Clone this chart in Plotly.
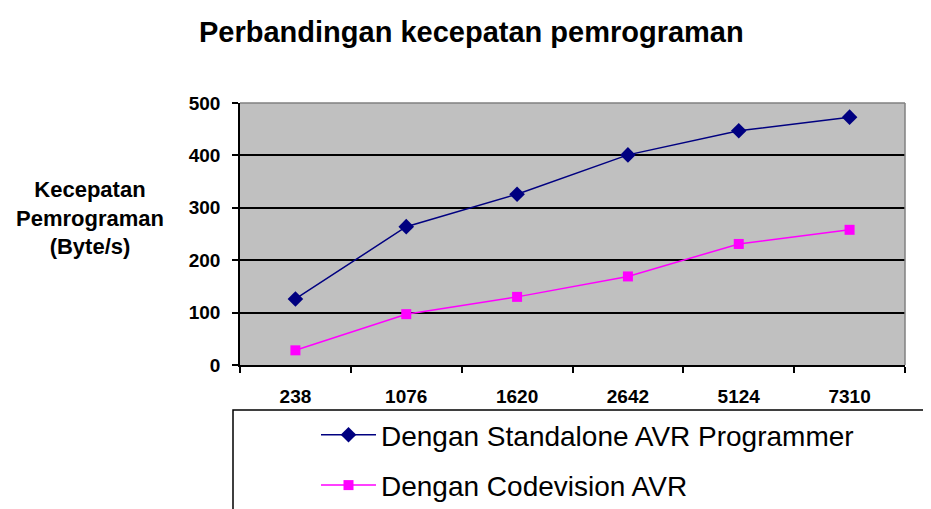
import plotly.graph_objects as go

categories = ["238", "1076", "1620", "2642", "5124", "7310"]
standalone = [126, 264, 326, 401, 447, 473]
codevision = [28, 97, 130, 169, 231, 258]
y_ticks = [0, 100, 200, 300, 400, 500]

# page places the figure at an 8px body margin; compensate so the
# window shows the same layout as the reference
OFF = 8
W, H = 931 - OFF, 509 - OFF
L, R, T, B = 240 - OFF, 26, 103 - OFF, 509 - 365
pw = W - L - R
ph = H - T - B

def px_x(x):
    return (x - OFF - L) / pw

def px_y(y):
    return (H - B - (y - OFF)) / ph

FONT = "Arial, Liberation Sans, sans-serif"

fig = go.Figure()
fig.add_trace(go.Scatter(
    x=categories, y=standalone, mode="lines+markers",
    name="Dengan Standalone AVR Programmer",
    line=dict(color="#000080", width=1.5),
    marker=dict(symbol="diamond", size=12, color="#000080"),
    legendgroup="a",
))
fig.add_trace(go.Scatter(
    x=categories, y=codevision, mode="lines+markers",
    name="Dengan Codevision AVR",
    line=dict(color="#FF00FF", width=1.5),
    marker=dict(symbol="square", size=10, color="#FF00FF"),
    legendgroup="b",
))

fig.update_layout(
    width=W, height=H,
    margin=dict(l=L, r=R, t=T, b=B, pad=0, autoexpand=False),
    paper_bgcolor="white",
    plot_bgcolor="#C0C0C0",
    font=dict(family=FONT, color="black"),
    showlegend=True,
    legend=dict(
        x=px_x(316), y=px_y(410), xanchor="left", yanchor="top",
        font=dict(size=28, family=FONT, color="black"),
        bgcolor="rgba(0,0,0,0)", borderwidth=0,
        tracegroupgap=11, itemwidth=55,
    ),
    xaxis=dict(
        type="category", range=[-0.5, len(categories) - 0.5],
        showgrid=False, showline=True, linecolor="black", linewidth=1.5,
        ticks="outside", tickson="boundaries", ticklen=6, tickcolor="black", tickwidth=1.5,
        tickfont=dict(size=19, family=FONT, color="black", weight="bold"),
        ticklabelstandoff=13, zeroline=False, fixedrange=True,
    ),
    yaxis=dict(
        range=[0, 500], tickvals=y_ticks, showgrid=True, gridcolor="black", gridwidth=1.5,
        showline=True, linecolor="black", linewidth=1.5,
        ticks="outside", ticklen=6, tickcolor="black", tickwidth=1.5,
        tickfont=dict(size=19, family=FONT, color="black", weight="bold"),
        ticklabelstandoff=8, zeroline=False, fixedrange=True,
    ),
    shapes=[
        dict(type="line", xref="paper", yref="paper", x0=0, x1=1, y0=1, y1=1,
             line=dict(color="#808080", width=1.5), layer="above"),
        dict(type="line", xref="paper", yref="paper", x0=1, x1=1, y0=0, y1=1,
             line=dict(color="#808080", width=1.5), layer="above"),
        dict(type="rect", xref="paper", yref="paper",
             x0=px_x(233), x1=px_x(945), y0=px_y(410), y1=px_y(530),
             line=dict(color="black", width=1.5), fillcolor="rgba(0,0,0,0)"),
    ],
    annotations=[
        dict(text="Perbandingan kecepatan pemrograman", xref="paper", yref="paper",
             x=px_x(471), y=px_y(32), xanchor="center", yanchor="middle", showarrow=False,
             font=dict(size=29, family=FONT, color="black", weight="bold")),
        dict(text="Kecepatan<br>Pemrograman<br>(Byte/s)", xref="paper", yref="paper",
             x=px_x(90), y=px_y(218), xanchor="center", yanchor="middle", showarrow=False,
             align="center",
             font=dict(size=22, family=FONT, color="black", weight="bold")),
    ],
)

fig.write_html("out.html")
